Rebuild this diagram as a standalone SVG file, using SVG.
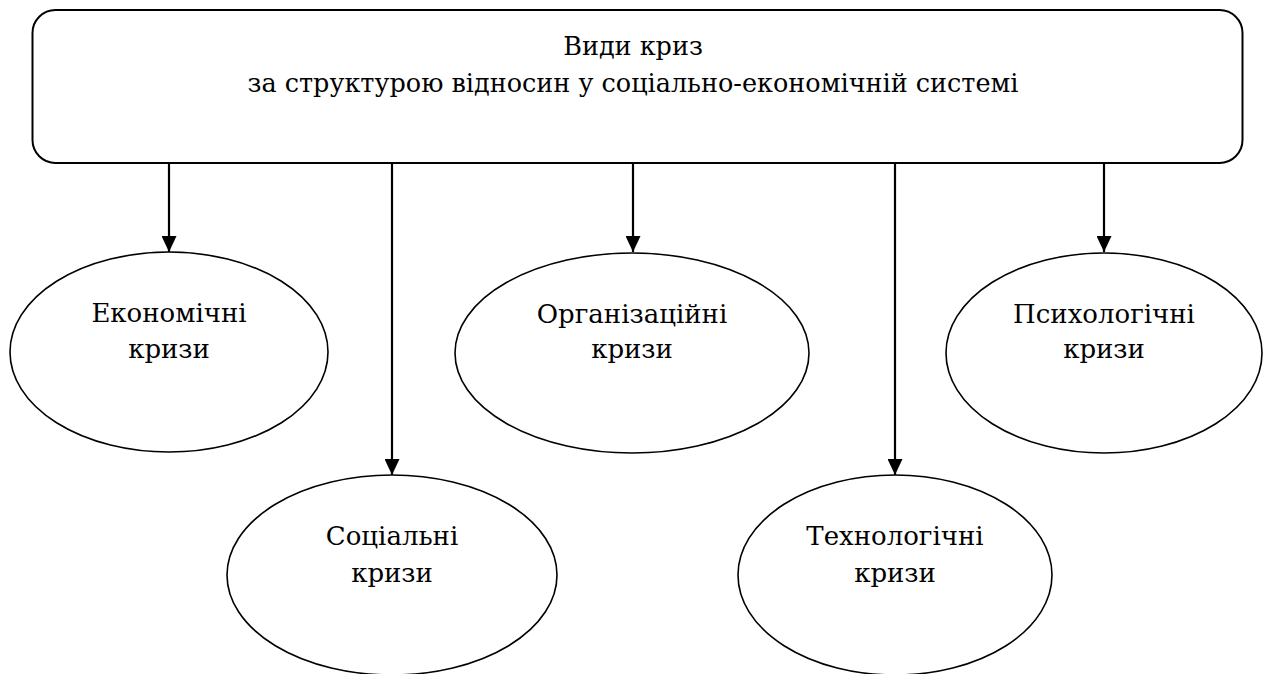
<svg xmlns="http://www.w3.org/2000/svg" width="1269" height="674" viewBox="0 0 1269 674">
<style>
.box{fill:#fff;stroke:#000;stroke-width:2}
.ell{fill:#fff;stroke:#000;stroke-width:1.6}
.lbl{font-family:"DejaVu Serif","Noto Serif","Liberation Serif",serif;font-size:26px;fill:#000;text-anchor:middle}
.ttl{font-size:25.5px}
.con{stroke:#000;stroke-width:2.2;fill:none}
</style>
<defs>
<marker id="ah" markerUnits="userSpaceOnUse" viewBox="0 0 16 15" refX="16" refY="7.5" markerWidth="16" markerHeight="15" orient="auto">
<path d="M0,0 L16,7.5 L0,15 Z" fill="#000"/>
</marker>
</defs>
<rect width="1269" height="674" fill="#fff"/>
<g id="root">
<rect class="box" x="32.5" y="10" width="1210" height="153" rx="23" ry="23"/>
<text class="lbl ttl" x="633" y="55">Види криз</text>
<text class="lbl ttl" x="633" y="92">за структурою відносин у соціально-економічній системі</text>
</g>
<g id="connectors">
<line class="con" x1="169" y1="163" x2="169" y2="252" marker-end="url(#ah)"/>
<line class="con" x1="392" y1="163" x2="392" y2="475" marker-end="url(#ah)"/>
<line class="con" x1="633" y1="163" x2="633" y2="252" marker-end="url(#ah)"/>
<line class="con" x1="895" y1="163" x2="895" y2="475" marker-end="url(#ah)"/>
<line class="con" x1="1104" y1="163" x2="1104" y2="252" marker-end="url(#ah)"/>
</g>
<g id="n-economic">
<ellipse class="ell" cx="169" cy="352" rx="159" ry="100"/>
<text class="lbl" x="169" y="322">Економічні</text>
<text class="lbl" x="169" y="358">кризи</text>
</g>
<g id="n-social">
<ellipse class="ell" cx="392" cy="575" rx="165" ry="100"/>
<text class="lbl" x="392" y="545">Соціальні</text>
<text class="lbl" x="392" y="582">кризи</text>
</g>
<g id="n-organizational">
<ellipse class="ell" cx="632" cy="353" rx="177" ry="100"/>
<text class="lbl" x="632" y="323">Організаційні</text>
<text class="lbl" x="632" y="358">кризи</text>
</g>
<g id="n-technological">
<ellipse class="ell" cx="895" cy="575" rx="157" ry="100"/>
<text class="lbl" x="895" y="545">Технологічні</text>
<text class="lbl" x="895" y="582">кризи</text>
</g>
<g id="n-psychological">
<ellipse class="ell" cx="1104" cy="353" rx="158" ry="100"/>
<text class="lbl" x="1104" y="323">Психологічні</text>
<text class="lbl" x="1104" y="358">кризи</text>
</g>
</svg>
